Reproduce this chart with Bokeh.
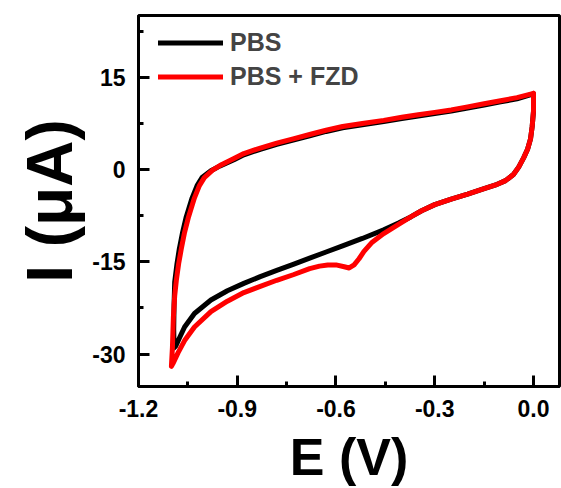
from bokeh.plotting import figure
from bokeh.models import Range1d, FixedTicker, Legend, LegendItem
from bokeh.embed import file_html
from bokeh.resources import INLINE

# PBS + FZD (red) cyclic voltammogram, E in V, I in uA
red_E = [0.0, 0.0, -0.004, -0.009, -0.018, -0.03, -0.045, -0.061, -0.085, -0.11,
         -0.15, -0.2, -0.25, -0.3, -0.34, -0.373, -0.41, -0.455, -0.49, -0.515,
         -0.53, -0.545, -0.56, -0.575, -0.6, -0.625, -0.65, -0.68, -0.73, -0.78,
         -0.83, -0.88, -0.93, -0.98, -1.03, -1.06, -1.08, -1.095, -1.1,
         -1.097, -1.094, -1.09, -1.085, -1.078, -1.07, -1.06, -1.048, -1.03, -1.015,
         -1.0, -0.975, -0.948, -0.91, -0.88, -0.83, -0.78, -0.73, -0.68, -0.63,
         -0.58, -0.52, -0.455, -0.4, -0.35, -0.3, -0.25, -0.2, -0.15, -0.1,
         -0.05, 0.0]
red_I = [12.4, 9.5, 7.0, 5.0, 3.3, 1.9, 0.4, -0.8, -1.8, -2.4,
         -3.1, -4.0, -4.8, -5.7, -6.7, -7.7, -8.9, -10.4, -11.8, -13.3,
         -14.5, -15.5, -16.0, -15.8, -15.5, -15.5, -15.7, -16.1, -17.1, -18.0,
         -19.0, -20.0, -21.4, -23.1, -25.6, -27.8, -29.8, -31.5, -32.0,
         -29.0, -24.0, -20.5, -18.0, -15.3, -12.9, -10.2, -7.7, -4.6, -2.6,
         -1.3, -0.1, 0.8, 1.8, 2.6, 3.5, 4.3, 5.0, 5.7, 6.4,
         7.0, 7.5, 8.0, 8.5, 8.9, 9.3, 9.7, 10.2, 10.7, 11.2,
         11.7, 12.4]

# PBS (black)
blk_E = [0.0, 0.0, -0.004, -0.009, -0.018, -0.03, -0.045, -0.061, -0.085, -0.11,
         -0.15, -0.2, -0.25, -0.3, -0.34, -0.373, -0.41, -0.455, -0.52, -0.58,
         -0.63, -0.68, -0.73, -0.78, -0.83, -0.88, -0.93, -0.98, -1.03, -1.06,
         -1.075, -1.087, -1.092,
         -1.093, -1.092, -1.09, -1.083, -1.076, -1.066, -1.055, -1.037, -1.022, -1.007,
         -0.98, -0.952, -0.91, -0.88, -0.83, -0.78, -0.73, -0.68, -0.63, -0.58,
         -0.52, -0.455, -0.4, -0.35, -0.3, -0.25, -0.2, -0.15, -0.1, -0.05, 0.0]
blk_I = [12.3, 9.5, 7.0, 5.0, 3.3, 1.9, 0.4, -0.8, -1.8, -2.4,
         -3.1, -4.0, -4.8, -5.7, -6.7, -7.7, -8.7, -9.8, -11.2, -12.4,
         -13.4, -14.4, -15.4, -16.4, -17.4, -18.5, -19.7, -21.2, -23.4, -25.6,
         -27.3, -28.7, -29.0,
         -26.0, -22.0, -18.3, -15.3, -12.9, -10.2, -7.7, -4.6, -2.6, -1.3,
         -0.2, 0.6, 1.6, 2.4, 3.3, 4.1, 4.8, 5.5, 6.2, 6.8,
         7.3, 7.8, 8.3, 8.7, 9.1, 9.5, 10.0, 10.5, 11.0, 11.5, 12.3]

x_ticks = [-1.2, -0.9, -0.6, -0.3, 0.0]
x_tick_labels = ["-1.2", "-0.9", "-0.6", "-0.3", "0.0"]
x_minor = [-1.05, -0.75, -0.45, -0.15]
y_ticks = [-30, -15, 0, 15]
y_tick_labels = ["-30", "-15", "0", "15"]
y_minor = [-22.5, -7.5, 7.5, 22.5]
series_labels = ["PBS", "PBS + FZD"]

FONT = "Liberation Sans"

p = figure(width=561, height=488, output_backend="svg", toolbar_location=None,
           x_range=Range1d(-1.2, 0.079), y_range=Range1d(-35.27, 25.05),
           min_border_left=138, min_border_right=2, min_border_top=15,
           min_border_bottom=95)
p.grid.visible = False
p.background_fill_color = "white"
p.border_fill_color = "white"
p.outline_line_color = "black"
p.outline_line_width = 3

rb = p.line(blk_E, blk_I, line_color="black", line_width=5, line_join="round", line_cap="round")
rr = p.line(red_E, red_I, line_color="#ff0000", line_width=5, line_join="round", line_cap="round")

for ax, ticks, minor, labels in ((p.xaxis[0], x_ticks, x_minor, x_tick_labels),
                                 (p.yaxis[0], y_ticks, y_minor, y_tick_labels)):
    ax.ticker = FixedTicker(ticks=ticks, minor_ticks=minor)
    ax.major_label_overrides = {t: s for t, s in zip(ticks, labels)}
    ax.axis_line_width = 3
    ax.major_tick_line_width = 3
    ax.minor_tick_line_width = 3
    ax.major_tick_in = 11
    ax.major_tick_out = 0
    ax.minor_tick_in = 5
    ax.minor_tick_out = 0
    ax.major_label_text_font = FONT
    ax.major_label_text_font_style = "bold"
    ax.major_label_text_font_size = "23px"
    ax.major_label_text_color = "black"
    ax.axis_label_text_font = FONT
    ax.axis_label_text_font_style = "bold"
    ax.axis_label_text_color = "black"

p.xaxis[0].major_label_standoff = 13
p.yaxis[0].major_label_standoff = 13
p.xaxis[0].axis_label = "E (V)"
p.xaxis[0].axis_label_text_font_size = "52px"
p.xaxis[0].axis_label_standoff = 8
p.yaxis[0].axis_label = "I (μA)"
p.yaxis[0].axis_label_text_font_size = "64px"
p.yaxis[0].axis_label_standoff = 3

legend = Legend(items=[LegendItem(label=series_labels[0], renderers=[rb]),
                       LegendItem(label=series_labels[1], renderers=[rr])],
                location=(20, 295), padding=0, margin=0, spacing=5,
                glyph_width=65, glyph_height=29, label_height=29, label_standoff=7,
                label_text_font=FONT, label_text_font_style="bold",
                label_text_font_size="25px", border_line_alpha=0,
                background_fill_alpha=0)
p.add_layout(legend)

open("out.html", "w").write(file_html(p, INLINE))
